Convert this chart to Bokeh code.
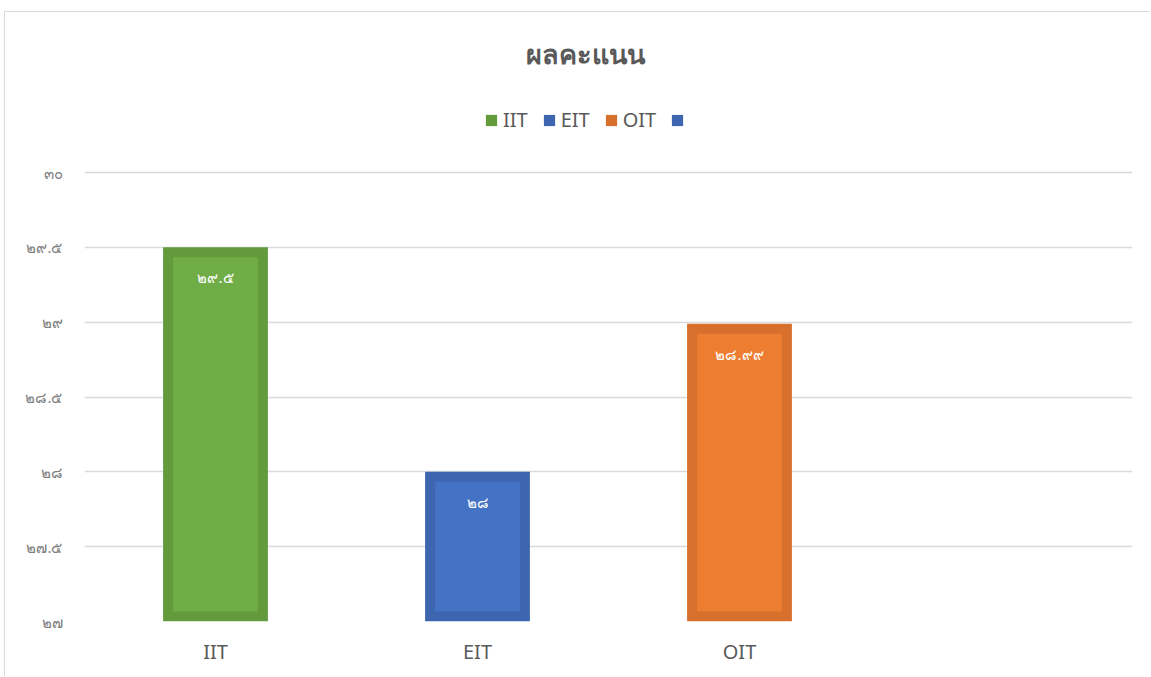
import numpy as np
from bokeh.plotting import figure
from bokeh.models import (ColumnDataSource, FactorRange, Range1d, FixedTicker,
                          Legend, LegendItem, Label)
from bokeh.core.properties import value
from bokeh.embed import file_html
from bokeh.resources import INLINE

# ---- data ----
TITLE = "ผลคะแนน"
CATEGORIES = ["IIT", "EIT", "OIT", " "]
SERIES_NAMES = ["IIT", "EIT", "OIT", ""]
SCORES = [29.5, 28.0, 28.99, np.nan]
SCORE_LABELS = ["๒๙.๕", "๒๘", "๒๘.๙๙", ""]
Y_TICKS = [27, 27.5, 28, 28.5, 29, 29.5, 30]
Y_TICK_LABELS = ["๒๗", "๒๗.๕", "๒๘", "๒๘.๕", "๒๙", "๒๙.๕", "๓๐"]

# ---- styles ----
OUTER_COLORS = ["#629a3c", "#3d65b0", "#d6702c", "#3d65b0"]
INNER_COLORS = ["#70ad47", "#4472c4", "#ed7d31", "#4472c4"]
TEXT_COLOR = "#595959"
TICK_COLOR = "#7f7f7f"
GRID_COLOR = "#d9d9d9"
FONT = "Noto Sans"

Y_MIN, Y_TOP_TICK = 27, 30
PLOT_H = 449          # px between 27 and 30
EXTRA_TOP_PX = 152    # room above the 30 line for title and legend
FRAME_W = 1048
BORDER_PX = 10
px_per_unit = PLOT_H / (Y_TOP_TICK - Y_MIN)
y_end = Y_TOP_TICK + EXTRA_TOP_PX / px_per_unit
border_y = BORDER_PX / px_per_unit
cat_px = FRAME_W / len(CATEGORIES)
outer_w = 0.4
inner_w = outer_w - 2 * BORDER_PX / cat_px

scores = np.array(SCORES, dtype=float)
src = ColumnDataSource(dict(
    cat=CATEGORIES,
    top=scores,
    inner_top=scores - border_y,
    inner_bottom=np.full(len(scores), Y_MIN + border_y),
    outer_color=OUTER_COLORS,
    inner_color=INNER_COLORS,
    label=SCORE_LABELS,
))

p = figure(width=1146, height=665, x_range=FactorRange(*CATEGORIES),
           y_range=Range1d(Y_MIN, y_end), output_backend="svg",
           toolbar_location=None, min_border_left=79, min_border_right=19,
           min_border_top=8, min_border_bottom=56)
p.outline_line_color = None
p.styles = {"margin-left": "4px", "margin-top": "11px",
            "border-left": "1px solid #d9d9d9", "border-top": "1px solid #d9d9d9"}

outer = p.vbar(x="cat", top="top", bottom=Y_MIN, width=outer_w, source=src,
               fill_color="outer_color", line_color=None)
p.vbar(x="cat", top="inner_top", bottom="inner_bottom", width=inner_w, source=src,
       fill_color="inner_color", line_color=None)

p.text(x="cat", y="top", text="label", source=src, y_offset=30,
       text_align="center", text_baseline="middle", text_color="white",
       text_font=value(FONT), text_font_size="15px", text_font_style="normal")

# axes
p.yaxis.ticker = FixedTicker(ticks=Y_TICKS)
p.yaxis.major_label_overrides = {t: l for t, l in zip(Y_TICKS, Y_TICK_LABELS)}
p.yaxis.axis_line_color = None
p.yaxis.major_tick_line_color = None
p.yaxis.minor_tick_line_color = None
p.yaxis.major_label_text_color = TICK_COLOR
p.yaxis.major_label_text_font = FONT
p.yaxis.major_label_text_font_size = "15px"
p.yaxis.major_label_standoff = 16

p.xaxis.axis_line_color = None
p.xaxis.major_tick_line_color = None
p.xaxis.major_label_text_color = TEXT_COLOR
p.xaxis.major_label_text_font = FONT
p.xaxis.major_label_text_font_size = "20px"
p.xaxis.major_label_standoff = 10

p.xgrid.grid_line_color = None
p.ygrid.grid_line_color = GRID_COLOR
p.ygrid.grid_line_width = 1.5

# title (screen units measured from the plot frame's bottom-left)
p.add_layout(Label(x=FRAME_W / 2 - 23, y=PLOT_H + 119,
                   x_units="screen", y_units="screen", text=TITLE,
                   text_align="center", text_baseline="middle",
                   text_color=TEXT_COLOR, text_font=FONT,
                   text_font_size="27px", text_font_style="bold"))

# legend
items = [LegendItem(label=n if n else " ", renderers=[outer], index=i)
         for i, n in enumerate(SERIES_NAMES)]
legend = Legend(items=items, orientation="horizontal", location=(400, PLOT_H + 39),
                glyph_width=14, glyph_height=14, label_standoff=5, spacing=14,
                padding=0, margin=0, border_line_color=None,
                background_fill_alpha=0, label_text_color=TEXT_COLOR,
                label_text_font=FONT, label_text_font_size="20px",
                label_height=22)
p.add_layout(legend)

open("out.html", "w").write(file_html(p, INLINE))
